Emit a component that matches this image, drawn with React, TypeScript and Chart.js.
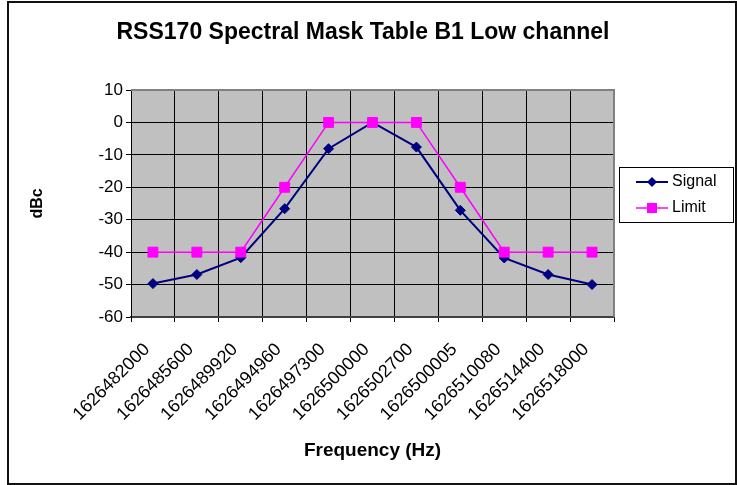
import React, { useEffect, useRef } from "react";
import { Chart, registerables } from "chart.js";

Chart.register(...registerables);

const categories = [
  "1626482000",
  "1626485600",
  "1626489920",
  "1626494960",
  "1626497300",
  "1626500000",
  "1626502700",
  "1626500005",
  "1626510080",
  "1626514400",
  "1626518000",
];
const signalValues = [-49.7, -46.9, -41.7, -26.6, -8.1, 0, -7.6, -27.1, -41.8, -46.9, -50];
const limitValues = [-40, -40, -40, -20, 0, 0, 0, -20, -40, -40, -40];
const seriesNames = ["Signal", "Limit"];
const yMin = -60;
const yMax = 10;
const yStep = 10;
const chartTitle = "RSS170 Spectral Mask Table B1 Low channel";
const xTitle = "Frequency (Hz)";
const yTitle = "dBc";

const FONT = "'Liberation Sans', Arial, Helvetica, sans-serif";
const SIGNAL_COLOR = "#000080";
const LIMIT_COLOR = "#FF00FF";

const decorPlugin = {
  id: "decor",
  beforeDraw(chart: any) {
    const { ctx, chartArea: a } = chart;
    ctx.save();
    ctx.fillStyle = "#ffffff";
    ctx.fillRect(0, 0, chart.width, chart.height);
    ctx.fillStyle = "#C0C0C0";
    ctx.fillRect(a.left, a.top, a.right - a.left, a.bottom - a.top);
    ctx.restore();
  },
  beforeDatasetsDraw(chart: any) {
    const { ctx, chartArea: a } = chart;
    ctx.save();
    ctx.strokeStyle = "#808080";
    ctx.lineWidth = 2;
    ctx.beginPath();
    ctx.moveTo(a.left, a.top);
    ctx.lineTo(a.right, a.top);
    ctx.lineTo(a.right, a.bottom);
    ctx.stroke();
    ctx.restore();
  },
  afterDraw(chart: any) {
    const { ctx } = chart;
    ctx.save();
    // title
    ctx.fillStyle = "#000";
    ctx.font = `bold 23px ${FONT}`;
    ctx.textAlign = "center";
    ctx.textBaseline = "middle";
    ctx.fillText(chartTitle, 363, 33);

    // legend box
    const bx = 619.5, by = 167.5, bw = 114, bh = 55;
    ctx.fillStyle = "#ffffff";
    ctx.fillRect(bx, by, bw, bh);
    ctx.strokeStyle = "#000";
    ctx.lineWidth = 1;
    ctx.strokeRect(bx, by, bw, bh);

    const entries = [
      { name: seriesNames[0], color: SIGNAL_COLOR, style: "rectRot", y: 182 },
      { name: seriesNames[1], color: LIMIT_COLOR, style: "rect", y: 208 },
    ];
    entries.forEach((e) => {
      ctx.strokeStyle = e.color;
      ctx.lineWidth = e.style === "rectRot" ? 2 : 1.5;
      ctx.beginPath();
      ctx.moveTo(636, e.y);
      ctx.lineTo(668, e.y);
      ctx.stroke();
      ctx.fillStyle = e.color;
      ctx.beginPath();
      if (e.style === "rectRot") {
        ctx.moveTo(652, e.y - 5);
        ctx.lineTo(657, e.y);
        ctx.lineTo(652, e.y + 5);
        ctx.lineTo(647, e.y);
        ctx.closePath();
      } else {
        ctx.rect(647, e.y - 5, 10, 10);
      }
      ctx.fill();
      ctx.fillStyle = "#000";
      ctx.font = `16px ${FONT}`;
      ctx.textAlign = "left";
      ctx.textBaseline = "middle";
      ctx.fillText(e.name, 672, e.y);
    });
    ctx.restore();
  },
};

export default function App() {
  const canvasRef = useRef<HTMLCanvasElement | null>(null);

  useEffect(() => {
    if (!canvasRef.current) return;
    const chart = new Chart(canvasRef.current, {
      type: "line",
      data: {
        labels: categories,
        datasets: [
          {
            label: seriesNames[0],
            data: signalValues,
            borderColor: SIGNAL_COLOR,
            backgroundColor: SIGNAL_COLOR,
            borderWidth: 2,
            pointStyle: "rectRot",
            pointRadius: 5,
            pointBorderWidth: 1,
            pointBackgroundColor: SIGNAL_COLOR,
            pointBorderColor: SIGNAL_COLOR,
            tension: 0,
            fill: false,
            order: 1,
          },
          {
            label: seriesNames[1],
            data: limitValues,
            borderColor: LIMIT_COLOR,
            backgroundColor: LIMIT_COLOR,
            borderWidth: 1.5,
            pointStyle: "rect",
            pointRadius: 7,
            pointBorderWidth: 1,
            pointBackgroundColor: LIMIT_COLOR,
            pointBorderColor: LIMIT_COLOR,
            tension: 0,
            fill: false,
            order: 0,
          },
        ],
      },
      options: {
        responsive: false,
        animation: false,
        layout: { padding: { left: 0, right: 123, top: 90, bottom: 0 } },
        plugins: {
          legend: { display: false },
          title: { display: false },
          tooltip: { enabled: false },
        },
        scales: {
          x: {
            type: "category",
            offset: true,
            grid: {
              offset: true,
              color: "#000",
              lineWidth: 1,
              tickLength: 5,
              tickColor: "#000",
            },
            border: { color: "#404040", width: 2 },
            ticks: {
              autoSkip: false,
              maxRotation: 45,
              minRotation: 45,
              color: "#000",
              font: { family: FONT, size: 18 },
              padding: 17,
              labelOffset: -6,
            },
            title: {
              display: true,
              text: xTitle,
              color: "#000",
              font: { family: FONT, size: 19, weight: "bold" },
              padding: { top: 0, bottom: 23 },
            },
            afterFit: (scale: any) => {
              scale.height = 168;
            },
          },
          y: {
            min: yMin,
            max: yMax,
            grid: {
              color: "#000",
              lineWidth: 1,
              tickLength: 5,
              tickColor: "#000",
            },
            border: { color: "#000", width: 1 },
            ticks: {
              stepSize: yStep,
              color: "#000",
              font: { family: FONT, size: 17 },
              padding: 3,
            },
            title: {
              display: true,
              text: yTitle,
              color: "#000",
              font: { family: FONT, size: 16, weight: "bold" },
              padding: { top: 28, bottom: 0 },
            },
            afterFit: (scale: any) => {
              scale.width = 131;
            },
          },
        },
      },
      plugins: [decorPlugin],
    });
    return () => chart.destroy();
  }, []);

  return (
    <div style={{ position: "absolute", left: 0, top: 0, width: 737, height: 485 }}>
      <canvas ref={canvasRef} width={737} height={485} style={{ display: "block" }} />
      <div
        style={{
          position: "absolute",
          left: 7,
          top: 1,
          width: 730,
          height: 484,
          border: "2px solid #111",
          boxSizing: "border-box",
          pointerEvents: "none",
        }}
      />
    </div>
  );
}
